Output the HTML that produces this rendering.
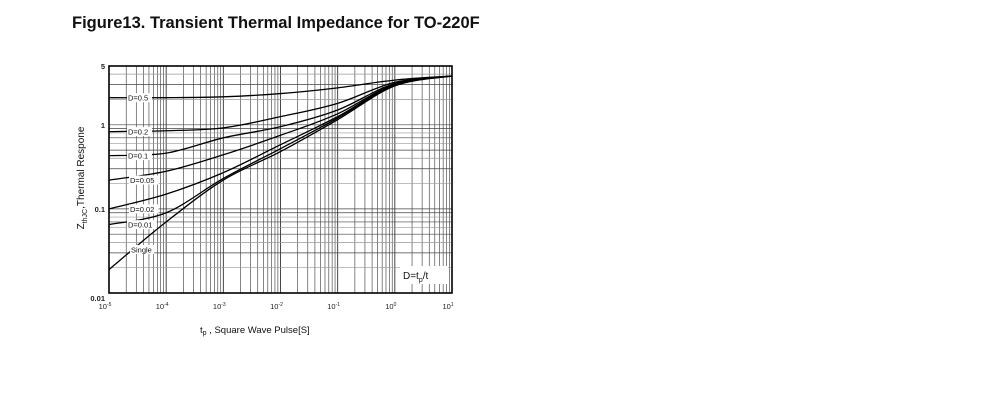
<!DOCTYPE html>
<html><head><meta charset="utf-8"><style>
body{margin:0;background:#fff;width:991px;height:413px;overflow:hidden;font-family:"Liberation Sans",Arial,sans-serif}
#title{position:absolute;left:72px;top:14px;font-size:16.5px;font-weight:bold;color:#111;white-space:nowrap}
svg{position:absolute;left:0;top:0}
</style></head><body>
<div id="title">Figure13. Transient Thermal Impedance for TO-220F</div>
<svg id="chart" width="991" height="413"></svg>
<script>
const xDecades = [-5,-4,-3,-2,-1,0,1];
const xTickLabels = ["-5","-4","-3","-2","-1","0","1"];
const yTickValues = [0.01,0.1,1,5];
const yTickLabels = ["0.01","0.1","1","5"];
const tp = [1e-5,1e-4,1e-3,1e-2,1e-1,1,10];
const seriesNames = ["D=0.5","D=0.2","D=0.1","D=0.05","D=0.02","D=0.01","Single"];
const d05 = [2.1,2.1,2.15,2.35,2.75,3.4,3.8];
const d02 = [0.83,0.85,0.92,1.25,1.8,3.2,3.8];
const d01 = [0.43,0.46,0.7,0.95,1.5,3.1,3.8];
const d005 = [0.22,0.28,0.44,0.75,1.35,3.05,3.8];
const d002 = [0.10,0.15,0.27,0.58,1.25,3.0,3.8];
const d001 = [0.065,0.09,0.23,0.52,1.2,2.95,3.8];
const single = [0.019,0.07,0.22,0.48,1.15,2.9,3.8];
const seriesValues = [d05,d02,d01,d005,d002,d001,single];

const svg = document.getElementById('chart');
const NS = 'http://www.w3.org/2000/svg';
const X0=109,X1=452,Y0=293,Y1=66;
const xMin=-5,xMax=1,yMin=Math.log10(0.01),yMax=Math.log10(5);
const xs = v => X0+(Math.log10(v)-xMin)/(xMax-xMin)*(X1-X0);
const ys = v => Y0-(Math.log10(v)-yMin)/(yMax-yMin)*(Y0-Y1);
function mk(tag,attrs,parent){const e=document.createElementNS(NS,tag);for(const k in attrs)e.setAttribute(k,attrs[k]);(parent||svg).appendChild(e);return e;}

const grid = mk('g',{});


for(let d=-5; d<1; d++){ for(let m=1;m<=9;m++){ const x=xs(m*Math.pow(10,d)); mk('line',{x1:x,x2:x,y1:Y1,y2:Y0,stroke:'#333','stroke-width':m==1?0.9:0.6},grid);} }
for(let d=-2; d<=0; d++){ for(let m=1;m<=9;m++){ const v=m*Math.pow(10,d); if(v>5) break; const y=ys(v); mk('line',{x1:X0,x2:X1,y1:y,y2:y,stroke:m%2?'#444':'#999','stroke-width':0.7},grid);} }
const frame = mk('rect',{x:X0,y:Y1,width:X1-X0,height:Y0-Y1,fill:'none',stroke:'#000','stroke-width':1.6});



xDecades.forEach((d,i)=>{
  const t=mk('text',{x:xs(Math.pow(10,d))-4,y:Y0+16,'font-size':7.5,fill:'#222','text-anchor':'middle'});
  
  
  t.textContent='10';
  const s=mk('tspan',{dy:-3,'font-size':5},t); s.textContent=xTickLabels[i];
});
yTickValues.forEach((v,i)=>{
  const t=mk('text',{x:X0-4,y:ys(v)+(v==0.01?8:3),'font-size':7.5,'font-weight':'bold',fill:'#222','text-anchor':'end'});
  
  
  t.textContent=yTickLabels[i];
});

function path(vals){
  const pts=tp.map((t,i)=>[xs(t),ys(vals[i])]);
  let d='M'+pts[0][0]+','+pts[0][1];
  for(let i=0;i<pts.length-1;i++){
    const p0=pts[Math.max(0,i-1)],p1=pts[i],p2=pts[i+1],p3=pts[Math.min(pts.length-1,i+2)];
    const c1=[p1[0]+(p2[0]-p0[0])/6,p1[1]+(p2[1]-p0[1])/6];
    const c2=[p2[0]-(p3[0]-p1[0])/6,p2[1]-(p3[1]-p1[1])/6];
    d+=` C${c1[0]},${c1[1]} ${c2[0]},${c2[1]} ${p2[0]},${p2[1]}`;
  }
  return d;
}
const labelX=[128,128,128,130,130,128,131];
seriesValues.forEach((vals,i)=>{
  const p=mk('path',{d:path(vals),fill:'none',stroke:'#000','stroke-width':1.3});
  
  
});
seriesValues.forEach((vals,i)=>{
  const isSingle=seriesNames[i]==='Single';
  const ly=isSingle?ys(vals[0])-20:ys(vals[0]);
  const g=mk('g',{});
  
  
  const w=isSingle?24:(seriesNames[i].length*4.6+2);
  mk('rect',{x:labelX[i]-1,y:ly-4.5,width:w,height:9,fill:'#fff'},g);
  const t=mk('text',{x:labelX[i],y:ly+3,'font-size':7.5,fill:'#111'},g);
  t.textContent=seriesNames[i];
});

const dg=mk('g',{});


mk('rect',{x:400,y:266,width:48,height:18,fill:'#fff'},dg);
const dt=mk('text',{x:403,y:279,'font-size':10,fill:'#111'},dg);
dt.textContent='D=t';
const ds=mk('tspan',{dy:3,'font-size':7},dt); ds.textContent='p';
const ds2=mk('tspan',{dy:-3},dt); ds2.textContent='/t';

const xl=mk('text',{x:200,y:333,'font-size':9.5,fill:'#111'});


xl.textContent='t';
const xs1=mk('tspan',{dy:2,'font-size':7},xl); xs1.textContent='p';
const xs2=mk('tspan',{dy:-2},xl); xs2.textContent=' ,  Square Wave Pulse[S]';

const yl=mk('text',{x:0,y:0,'font-size':10,fill:'#111','text-anchor':'middle',transform:'translate(84,178) rotate(-90)'});


yl.textContent='Z';
const y1=mk('tspan',{dy:3,'font-size':7},yl); y1.textContent='thJC';
const y2=mk('tspan',{dy:-3},yl); y2.textContent=',Thermal Respone';
</script>
</body></html>
